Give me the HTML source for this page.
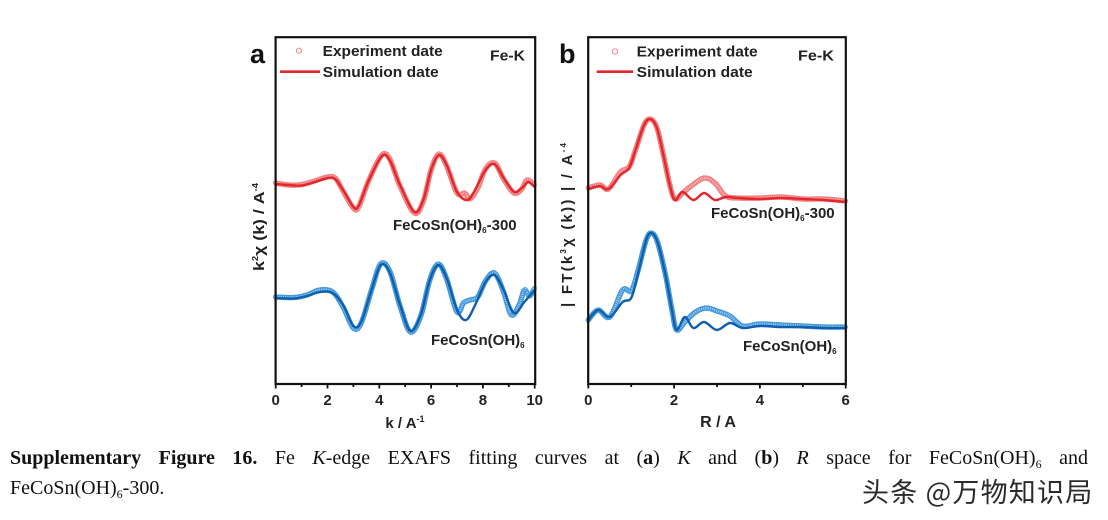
<!DOCTYPE html>
<html>
<head>
<meta charset="utf-8">
<style>
  html,body{margin:0;padding:0;background:#fff;}
  body{width:1108px;height:520px;position:relative;overflow:hidden;}
  svg{position:absolute;left:0;top:0;}
  .cap{position:absolute;left:10px;font-family:"Liberation Serif",serif;font-size:20px;line-height:20px;color:#111;white-space:nowrap;}
  .l1{top:448px;width:1078px;text-align:justify;text-align-last:justify;white-space:normal;}
  .l2{top:478px;}
  .sub{font-size:12px;position:relative;top:4px;}
  .wm{position:absolute;left:862px;top:476px;font-family:"Noto Sans CJK SC","WenQuanYi Zen Hei",sans-serif;font-size:27px;line-height:30px;color:#2b2b2b;white-space:nowrap;letter-spacing:1.2px;}
</style>
</head>
<body>
<svg id="s" width="1108" height="520" viewBox="0 0 1108 520" xmlns="http://www.w3.org/2000/svg" font-family="Liberation Sans, Arial, sans-serif" font-weight="bold">
  <g id="curves"></g>
  <rect x="275.6" y="37.2" width="259.6" height="346.8" fill="none" stroke="#111" stroke-width="2.2"/>
  <rect x="588.2" y="37.2" width="257.6" height="346.8" fill="none" stroke="#111" stroke-width="2.2"/>
  <g id="ticks" stroke="#111" stroke-width="1.8"></g>

  <text x="250" y="63" font-size="27" fill="#111">a</text>
  <text x="559" y="63" font-size="27" fill="#111">b</text>

  <circle cx="299" cy="50.7" r="2.6" fill="none" stroke="#ef8a8a" stroke-width="1"/>
  <text x="322.7" y="56" font-size="15" fill="#222" textLength="120" lengthAdjust="spacingAndGlyphs">Experiment date</text>
  <line x1="280" y1="71.7" x2="320" y2="71.7" stroke="#e3262b" stroke-width="2.6"/>
  <text x="322.7" y="77" font-size="15" fill="#222" textLength="116" lengthAdjust="spacingAndGlyphs">Simulation date</text>
  <text x="490" y="60.5" font-size="15" fill="#222" textLength="35" lengthAdjust="spacingAndGlyphs">Fe-K</text>

  <circle cx="615" cy="51.5" r="2.6" fill="none" stroke="#ef8a8a" stroke-width="1"/>
  <text x="636.7" y="56.5" font-size="15" fill="#222" textLength="121" lengthAdjust="spacingAndGlyphs">Experiment date</text>
  <line x1="596.7" y1="71.7" x2="633" y2="71.7" stroke="#e3262b" stroke-width="2.6"/>
  <text x="636.7" y="77" font-size="15" fill="#222" textLength="116" lengthAdjust="spacingAndGlyphs">Simulation date</text>
  <text x="798" y="60.5" font-size="15" fill="#222" textLength="36" lengthAdjust="spacingAndGlyphs">Fe-K</text>

  <text x="393" y="230" font-size="15" fill="#222">FeCoSn(OH)<tspan font-size="8" dy="3">6</tspan><tspan dy="-3">-300</tspan></text>
  <text x="431" y="345" font-size="15" fill="#222">FeCoSn(OH)<tspan font-size="8" dy="3">6</tspan></text>
  <text x="711" y="218" font-size="15" fill="#222">FeCoSn(OH)<tspan font-size="8" dy="3">6</tspan><tspan dy="-3">-300</tspan></text>
  <text x="743" y="351" font-size="15" fill="#222">FeCoSn(OH)<tspan font-size="8" dy="3">6</tspan></text>

  <g font-size="15" fill="#222" text-anchor="middle">
    <text x="275.7" y="405">0</text>
    <text x="327.5" y="405">2</text>
    <text x="379.3" y="405">4</text>
    <text x="431.1" y="405">6</text>
    <text x="482.9" y="405">8</text>
    <text x="534.7" y="405">10</text>
    <text x="588.3" y="405">0</text>
    <text x="674.1" y="405">2</text>
    <text x="759.9" y="405">4</text>
    <text x="845.7" y="405">6</text>
  </g>
  <text x="405" y="428" font-size="15" fill="#222" text-anchor="middle">k / A<tspan font-size="9" dy="-6">-1</tspan></text>
  <text x="718" y="427" font-size="16" fill="#222" text-anchor="middle">R / A</text>

  <text transform="translate(264,227) rotate(-90)" font-size="15" fill="#222" text-anchor="middle" textLength="88" lengthAdjust="spacingAndGlyphs">k<tspan font-size="8" dy="-6">2</tspan><tspan dy="6">χ (k) / A</tspan><tspan font-size="8" dy="-6">-4</tspan></text>
  <text transform="translate(572,225) rotate(-90)" font-size="15" fill="#222" text-anchor="middle" textLength="164" lengthAdjust="spacing">| FT(k<tspan font-size="8" dy="-6">3</tspan><tspan dy="6">χ (k)) | / A</tspan><tspan font-size="8" dy="-6">-4</tspan></text>
</svg>

<div class="cap l1"><b>Supplementary Figure 16.</b> Fe <i>K</i>-edge EXAFS fitting curves at (<b>a</b>) <i>K</i> and (<b>b</b>) <i>R</i> space for FeCoSn(OH)<span class="sub">6</span> and</div>
<div class="cap l2">FeCoSn(OH)<span class="sub">6</span>-300.</div>
<div class="wm">头条 @万物知识局</div>

<script>
(function(){
  var NS="http://www.w3.org/2000/svg";
  var g=document.getElementById("curves");
  var tk=document.getElementById("ticks");
  function ax(k){return 275.7+k*25.9;}
  function bx(r){return 588.3+r*42.9;}
  function cr(pts){
    var n=pts.length,d="M"+pts[0][0].toFixed(2)+","+pts[0][1].toFixed(2);
    for(var i=0;i<n-1;i++){
      var p0=pts[Math.max(i-1,0)],p1=pts[i],p2=pts[i+1],p3=pts[Math.min(i+2,n-1)];
      var c1x=p1[0]+(p2[0]-p0[0])/6,c1y=p1[1]+(p2[1]-p0[1])/6;
      var c2x=p2[0]-(p3[0]-p1[0])/6,c2y=p2[1]-(p3[1]-p1[1])/6;
      d+=" C"+c1x.toFixed(2)+","+c1y.toFixed(2)+" "+c2x.toFixed(2)+","+c2y.toFixed(2)+" "+p2[0].toFixed(2)+","+p2[1].toFixed(2);
    }
    return d;
  }
  function mk(tag,attrs,parent){var e=document.createElementNS(NS,tag);for(var a in attrs)e.setAttribute(a,attrs[a]);(parent||g).appendChild(e);return e;}
  function conv(arr,f){return arr.map(function(p){return [f(p[0]),p[1]];});}
  function exp(pts,col,band){
    var d=cr(pts);
    mk("path",{d:d,fill:"none",stroke:band,"stroke-width":"5","stroke-linejoin":"round","stroke-linecap":"round",opacity:"0.75"});
    var p=mk("path",{d:d,fill:"none",stroke:"none"});
    var L=p.getTotalLength();
    for(var s=0;s<=L;s+=2.2){
      var q=p.getPointAtLength(s);
      mk("circle",{cx:q.x.toFixed(2),cy:q.y.toFixed(2),r:"2.3",fill:"none",stroke:col,"stroke-width":"0.9"});
    }
  }
  function sim(pts,col){
    mk("path",{d:cr(pts),fill:"none",stroke:col,"stroke-width":"2.4","stroke-linejoin":"round"});
  }
  var aRs=[[0,184],[0.5,185],[1,185.5],[1.5,182],[2.0,178],[2.3,179],[2.6,190],[3.0,207],[3.2,206],[3.6,180],[4.1,156],[4.4,160],[4.8,185],[5.35,212],[5.7,200],[6.0,170],[6.3,155],[6.6,165],[7.0,192],[7.4,200],[7.7,190],[8.1,170],[8.45,164],[8.8,178],[9.2,192],[9.5,188],[9.75,182],[10,187]];
  var aRe=[[0,183],[0.5,185],[1,184.5],[1.5,181],[2.0,177],[2.3,178],[2.6,191],[3.0,208],[3.2,207],[3.6,180],[4.1,155],[4.4,159],[4.8,186],[5.35,213],[5.7,201],[6.0,170],[6.3,154],[6.6,166],[7.0,193],[7.3,193],[7.5,199],[7.8,188],[8.1,169],[8.45,163],[8.8,179],[9.2,193],[9.5,189],[9.7,180],[10,185]];
  exp(conv(aRe,ax),"#f07a7a","#f6a5a5");
  sim(conv(aRs,ax),"#e3262b");
  var aBs=[[0,298],[0.7,298.5],[1.2,296],[1.7,292],[2.2,293],[2.6,305],[3.0,326],[3.3,322],[3.7,290],[4.05,265],[4.4,272],[4.8,305],[5.2,331],[5.6,315],[5.95,280],[6.28,265],[6.6,278],[7.0,310],[7.35,320],[7.7,305],[8.1,282],[8.45,275],[8.8,290],[9.2,313],[9.6,302],[10,290]];
  var aBe=[[0,297],[0.7,297.5],[1.2,295],[1.7,290],[2.2,292],[2.6,307],[3.0,328],[3.3,323],[3.7,290],[4.05,264],[4.4,271],[4.8,306],[5.2,332],[5.6,316],[5.95,280],[6.28,264],[6.6,279],[7.0,312],[7.25,303],[7.5,300],[7.8,297],[8.1,281],[8.45,273],[8.8,292],[9.1,315],[9.4,305],[9.6,290],[9.8,296],[10,288]];
  exp(conv(aBe,ax),"#3f96da","#7ab8ea");
  sim(conv(aBs,ax),"#0e5fae");
  var bRs=[[0,189],[0.27,186],[0.47,189],[0.75,175],[0.95,168],[1.1,150],[1.3,125],[1.45,119],[1.6,128],[1.75,155],[1.9,185],[2.02,200],[2.2,192],[2.45,200],[2.7,193],[2.95,200],[3.2,197],[3.5,198],[4,199],[4.5,198],[5,199],[5.5,200],[6,202]];
  var bRe=[[0,188],[0.27,185],[0.47,189],[0.75,172],[0.95,167],[1.1,150],[1.3,125],[1.45,119],[1.6,128],[1.75,155],[1.9,185],[2.02,199],[2.2,193],[2.4,186],[2.7,178],[2.95,183],[3.2,196],[3.5,198],[4,198],[4.5,197],[5,199],[5.5,199],[6,201]];
  exp(conv(bRe,bx),"#f07a7a","#f6a5a5");
  sim(conv(bRs,bx),"#e3262b");
  var bBs=[[0,320],[0.23,310],[0.5,317],[0.8,302],[1.0,298],[1.15,275],[1.35,240],[1.48,233],[1.62,243],[1.8,275],[1.95,310],[2.06,330],[2.25,317],[2.45,328],[2.7,322],[3.0,330],[3.3,323],[3.6,328],[4,326],[4.5,327],[5,327],[5.5,328],[6,328]];
  var bBe=[[0,320],[0.23,310],[0.5,317],[0.8,290],[1.0,291],[1.15,272],[1.35,240],[1.48,233],[1.62,243],[1.8,275],[1.95,310],[2.06,330],[2.25,322],[2.5,312],[2.75,308],[3.0,311],[3.3,316],[3.6,326],[4,324],[4.5,325],[5,326],[5.5,327],[6,327]];
  exp(conv(bBe,bx),"#3f96da","#7ab8ea");
  sim(conv(bBs,bx),"#0e5fae");
  for(var k=0;k<=10;k++){var x=ax(k);mk("line",{x1:x,y1:384,x2:x,y2:(k%2==0?388.5:387)},tk);}
  for(var r=0;r<=6;r++){var x2=bx(r);mk("line",{x1:x2,y1:384,x2:x2,y2:(r%2==0?388.5:387)},tk);}
})();
</script>
</body>
</html>
